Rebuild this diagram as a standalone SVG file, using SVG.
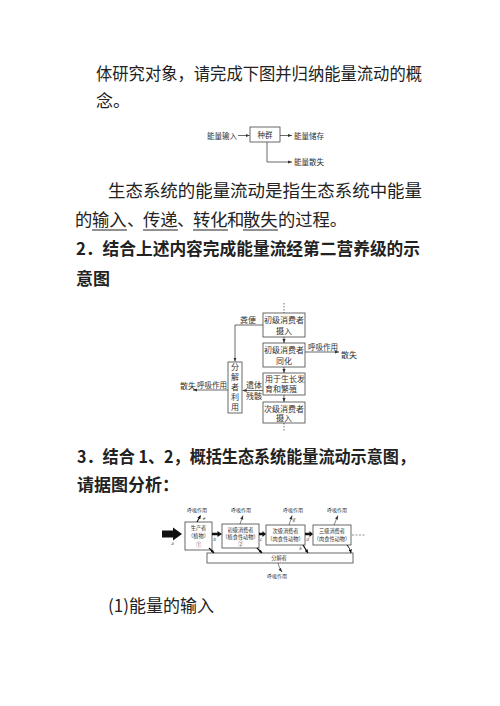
<svg xmlns="http://www.w3.org/2000/svg" width="500" height="706" viewBox="0 0 500 706">
<style>
.t{font-family:"Noto Sans CJK SC","Liberation Serif",sans-serif;fill:#222;font-size:17px}
.b{font-weight:700}
.s{font-family:"Noto Sans CJK SC",sans-serif;fill:#333}
.box{fill:#fff;stroke:#444;stroke-width:0.8}
.ln{fill:none;stroke:#444;stroke-width:0.8}
.ul{stroke:#222;stroke-width:1}
</style>
<defs>
<marker id="ah" viewBox="0 0 10 10" refX="10" refY="5" markerWidth="4" markerHeight="4" orient="auto" markerUnits="userSpaceOnUse"><path d="M0,1 L10,5 L0,9 Z" fill="#333"/></marker>
<marker id="ah2" viewBox="0 0 10 10" refX="10" refY="5" markerWidth="3.5" markerHeight="3.5" orient="auto" markerUnits="userSpaceOnUse"><path d="M0,0 L10,5 L0,10 Z" fill="#111"/></marker>
</defs>

<g id="text">
<text class="t" x="96" y="80" textLength="326" lengthAdjust="spacingAndGlyphs">体研究对象，请完成下图并归纳能量流动的概</text>
<text class="t" x="96" y="107">念。</text>
<text class="t" x="108" y="197" textLength="314" lengthAdjust="spacingAndGlyphs">生态系统的能量流动是指生态系统中能量</text>
<text class="t" y="226" style="font-size:17.3px"><tspan x="75">的</tspan><tspan x="92">输入</tspan><tspan x="127">、</tspan><tspan x="143">传递</tspan><tspan x="177">、</tspan><tspan x="193">转化</tspan><tspan x="227">和</tspan><tspan x="243">散失</tspan><tspan x="278">的过程。</tspan></text>
<line class="ul" x1="92" y1="230" x2="127" y2="230"/>
<line class="ul" x1="143" y1="230" x2="178" y2="230"/>
<line class="ul" x1="193" y1="230" x2="228" y2="230"/>
<line class="ul" x1="243" y1="230" x2="278" y2="230"/>
<text class="t b" x="76" y="255" textLength="344" lengthAdjust="spacingAndGlyphs">2．结合上述内容完成能量流经第二营养级的示</text>
<text class="t b" x="76" y="285">意图</text>
<text class="t b" x="77" y="463" textLength="338" lengthAdjust="spacingAndGlyphs">3．结合 1、2，概括生态系统能量流动示意图，</text>
<text class="t b" x="77" y="491">请据图分析：</text>
<text class="t" x="108" y="612">(1)能量的输入</text>
</g>

<!-- Diagram 1 -->
<g id="d1-input"><text class="s" x="207" y="139" font-size="7.5">能量输入</text></g>
<g id="d1-pop"><rect class="box" x="250" y="127" width="30" height="15"/><text class="s" x="265" y="137.5" font-size="7.5" text-anchor="middle">种群</text></g>
<g id="d1-store"><text class="s" x="294" y="138.5" font-size="7.5">能量储存</text></g>
<g id="d1-loss"><text class="s" x="294" y="164.5" font-size="7.5">能量散失</text></g>
<g id="d1-edges">
<line class="ln" x1="238" y1="135.5" x2="249.5" y2="135.5" marker-end="url(#ah)"/>
<line class="ln" x1="280" y1="135.5" x2="292" y2="135.5" marker-end="url(#ah)"/>
<path class="ln" d="M267,142 V162 H292" marker-end="url(#ah)"/>
</g>

<!-- Diagram 2 -->
<g id="d2-n1"><rect class="box" x="263" y="313" width="42" height="24"/><text class="s" font-size="8" text-anchor="middle"><tspan x="284" y="323">初级消费者</tspan><tspan x="284" y="334">摄入</tspan></text></g>
<g id="d2-n2"><rect class="box" x="263" y="343" width="42" height="24"/><text class="s" font-size="8" text-anchor="middle"><tspan x="284" y="353">初级消费者</tspan><tspan x="284" y="364">同化</tspan></text></g>
<g id="d2-n3"><rect class="box" x="263" y="373" width="42" height="22"/><text class="s" font-size="8"><tspan x="265" y="382">用于生长发</tspan><tspan x="265" y="392">育和繁殖</tspan></text></g>
<g id="d2-n4"><rect class="box" x="263" y="402" width="42" height="21"/><text class="s" font-size="8" text-anchor="middle"><tspan x="284" y="411.5">次级消费者</tspan><tspan x="284" y="421">摄入</tspan></text></g>
<g id="d2-dec"><rect class="box" x="228" y="362" width="14" height="51"/><text class="s" font-size="8" text-anchor="middle"><tspan x="235" y="370">分</tspan><tspan x="235" y="380">解</tspan><tspan x="235" y="390">者</tspan><tspan x="235" y="400">利</tspan><tspan x="235" y="410">用</tspan></text></g>
<g id="d2-loss1"><text class="s" x="180" y="389" font-size="8">散失</text></g>
<g id="d2-loss2"><text class="s" x="341" y="358" font-size="8">散失</text></g>
<g id="d2-edges">
<line class="ln" x1="284" y1="303" x2="284" y2="313" stroke-dasharray="1.5,1.5"/>
<line class="ln" x1="284" y1="423" x2="284" y2="431" stroke-dasharray="1.5,1.5"/>
<line class="ln" x1="284" y1="337" x2="284" y2="343" marker-end="url(#ah)"/>
<line class="ln" x1="284" y1="367" x2="284" y2="373" marker-end="url(#ah)"/>
<line class="ln" x1="284" y1="395" x2="284" y2="402" marker-end="url(#ah)"/>
<path class="ln" d="M263,325 H235 V361.5" marker-end="url(#ah)"/>
<text class="s" x="240" y="323" font-size="8">粪便</text>
<line class="ln" x1="263" y1="390.5" x2="242.5" y2="390.5" marker-end="url(#ah)"/>
<text class="s" font-size="8"><tspan x="246" y="388">遗体</tspan><tspan x="246" y="398.5">残骸</tspan></text>
<line class="ln" x1="228" y1="390" x2="193" y2="390" marker-end="url(#ah)"/>
<text class="s" x="197" y="387.5" font-size="7.5">呼吸作用</text>
<line class="ln" x1="305" y1="352" x2="339" y2="352" marker-end="url(#ah)"/>
<text class="s" x="308" y="349.5" font-size="7.5">呼吸作用</text>
</g>

<!-- Diagram 3 -->
<g id="d3-p"><rect class="box" x="185" y="522" width="27" height="28"/><text class="s" font-size="5.2" text-anchor="middle"><tspan x="198.5" y="530">生产者</tspan><tspan x="198.5" y="538">（植物）</tspan><tspan x="198.5" y="546.5">①</tspan></text></g>
<g id="d3-c1"><rect class="box" x="222" y="524" width="37" height="24"/><text class="s" font-size="5.2" text-anchor="middle"><tspan x="240.5" y="531.5">初级消费者</tspan><tspan x="240.5" y="538.5">（植食性动物）</tspan><tspan x="240.5" y="546">②</tspan></text></g>
<g id="d3-c2"><rect class="box" x="266" y="525" width="39" height="20"/><text class="s" font-size="5.2" text-anchor="middle"><tspan x="285.5" y="533">次级消费者</tspan><tspan x="285.5" y="541">（肉食性动物）</tspan></text></g>
<g id="d3-c3"><rect class="box" x="313" y="525" width="38" height="20"/><text class="s" font-size="5.2" text-anchor="middle"><tspan x="332" y="533">三级消费者</tspan><tspan x="332" y="541">（肉食性动物）</tspan></text></g>
<g id="d3-dec"><rect class="box" x="207" y="553" width="146" height="10"/><text class="s" x="279" y="560" font-size="5.2" text-anchor="middle">分解者</text></g>
<g id="d3-edges">
<polygon points="162,530.5 173,530.5 173,527.5 182,534 173,540.5 173,537.5 162,537.5" fill="#111"/>
<text class="s" x="171" y="545" font-size="4.5" font-style="italic">a</text>
<polygon points="212,532.8 217.5,532.8 217.5,531 222,534 217.5,537 217.5,535.2 212,535.2" fill="#111"/>
<text class="s" x="213" y="541" font-size="4.5" font-style="italic">b</text>
<polygon points="259,532.8 262.5,532.8 262.5,531 266,534 262.5,537 262.5,535.2 259,535.2" fill="#111"/>
<text class="s" x="259.5" y="541" font-size="4.5" font-style="italic">c</text>
<polygon points="305,532.8 309.5,532.8 309.5,531 313,534 309.5,537 309.5,535.2 305,535.2" fill="#111"/>
<text class="s" x="306" y="541" font-size="4.5" font-style="italic">d</text>
<line x1="352" y1="535" x2="366" y2="535" stroke="#444" stroke-width="0.6" stroke-dasharray="2,1.5"/>
<text class="s" x="187" y="512" font-size="5">呼吸作用</text>
<line x1="197" y1="522" x2="200.5" y2="515.5" stroke="#111" stroke-width="1.1" marker-end="url(#ah2)"/>
<text class="s" x="202.5" y="520" font-size="4.5" font-style="italic">e</text>
<text class="s" x="231" y="512" font-size="5">呼吸作用</text>
<line x1="240" y1="524" x2="243" y2="515.5" stroke="#333" stroke-width="0.6" marker-end="url(#ah)"/>
<text class="s" x="283" y="512" font-size="5">呼吸作用</text>
<line x1="289" y1="525" x2="292" y2="515.5" stroke="#333" stroke-width="0.6" marker-end="url(#ah)"/>
<text class="s" x="292.5" y="521" font-size="4.5" font-style="italic">g</text>
<text class="s" x="327" y="512" font-size="5">呼吸作用</text>
<line x1="334" y1="525" x2="338" y2="515.5" stroke="#333" stroke-width="0.6" marker-end="url(#ah)"/>
<line x1="209" y1="548" x2="214" y2="553" stroke="#111" stroke-width="1.2" marker-end="url(#ah2)"/>
<line x1="257" y1="548" x2="262" y2="553" stroke="#111" stroke-width="1.2" marker-end="url(#ah2)"/>
<line x1="303" y1="545" x2="308" y2="553" stroke="#111" stroke-width="1.2" marker-end="url(#ah2)"/>
<text class="s" x="299" y="550" font-size="4.5" font-style="italic">k</text>
<path d="M347,545 Q350,548 351,553" fill="none" stroke="#111" stroke-width="1" marker-end="url(#ah2)"/>
<path d="M278,563 Q279,568 282,572" fill="none" stroke="#333" stroke-width="0.6" marker-end="url(#ah)"/>
<text class="s" x="267" y="578" font-size="5">呼吸作用</text>
</g>
</svg>
